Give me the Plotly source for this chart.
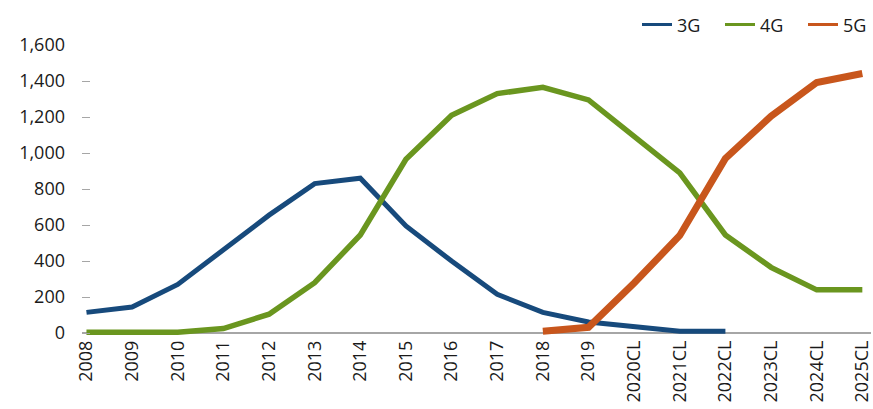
import plotly.graph_objects as go

categories = ["2008", "2009", "2010", "2011", "2012", "2013", "2014", "2015", "2016",
              "2017", "2018", "2019", "2020CL", "2021CL", "2022CL", "2023CL", "2024CL", "2025CL"]

g3 = [115, 145, 270, 460, 655, 830, 860, 595, 400, 215, 115, 62, 35, 10, 10,
      None, None, None]
g4 = [5, 5, 5, 25, 105, 280, 545, 965, 1210, 1330, 1365, 1295, 1095, 890, 545,
      365, 240, 240]
g5 = [None, None, None, None, None, None, None, None, None, None, 10, 32, 278,
      542, 970, 1205, 1392, 1442]

series_names = ["3G", "4G", "5G"]
series_values = [g3, g4, g5]
series_colors = ["#174A7C", "#6A961F", "#C8561C"]
series_widths = [5, 5.5, 7]
legend_widths = [38, 38, 23]

fig = go.Figure()
for name, vals, col, w in zip(series_names, series_values, series_colors, series_widths):
    fig.add_trace(go.Scatter(
        x=list(range(len(categories))), y=vals, name=name, mode="lines",
        line=dict(color=col, width=w), connectgaps=False, showlegend=False,
    ))
# legend entries with thinner sample lines
for name, col, lw in zip(series_names, series_colors, legend_widths):
    fig.add_trace(go.Scatter(
        x=[None], y=[None], name=name, mode="lines",
        line=dict(color=col, width=3), showlegend=True, legendwidth=lw,
    ))

font = dict(family="Open Sans, sans-serif", size=18, color="#1a1a1a")

fig.update_layout(
    width=873, height=409,
    margin=dict(l=82, r=0, t=45, b=73),
    paper_bgcolor="white", plot_bgcolor="white",
    font=font,
    showlegend=True,
    legend=dict(orientation="h", x=1.0, xanchor="right", y=1.069, yanchor="middle",
                font=font, bgcolor="rgba(0,0,0,0)", itemwidth=30, tracegroupgap=0),
    xaxis=dict(
        tickmode="array", tickvals=list(range(len(categories))), ticktext=categories,
        tickangle=-90, range=[-0.098, 17.19], showgrid=False, zeroline=False,
        showline=False, ticks="", tickfont=font, ticklabeloverflow="allow",
    ),
    yaxis=dict(
        range=[-16.2, 1600], tickvals=list(range(0, 1601, 200)),
        tickformat=",d", showgrid=False, zeroline=True, zerolinecolor="#a6a6a6",
        zerolinewidth=1.5, showline=False, ticks="inside", ticklen=8,
        tickcolor="#a6a6a6", tickwidth=1, ticklabelstandoff=16, tickfont=font,
    ),
)

fig.write_html("out.html")
